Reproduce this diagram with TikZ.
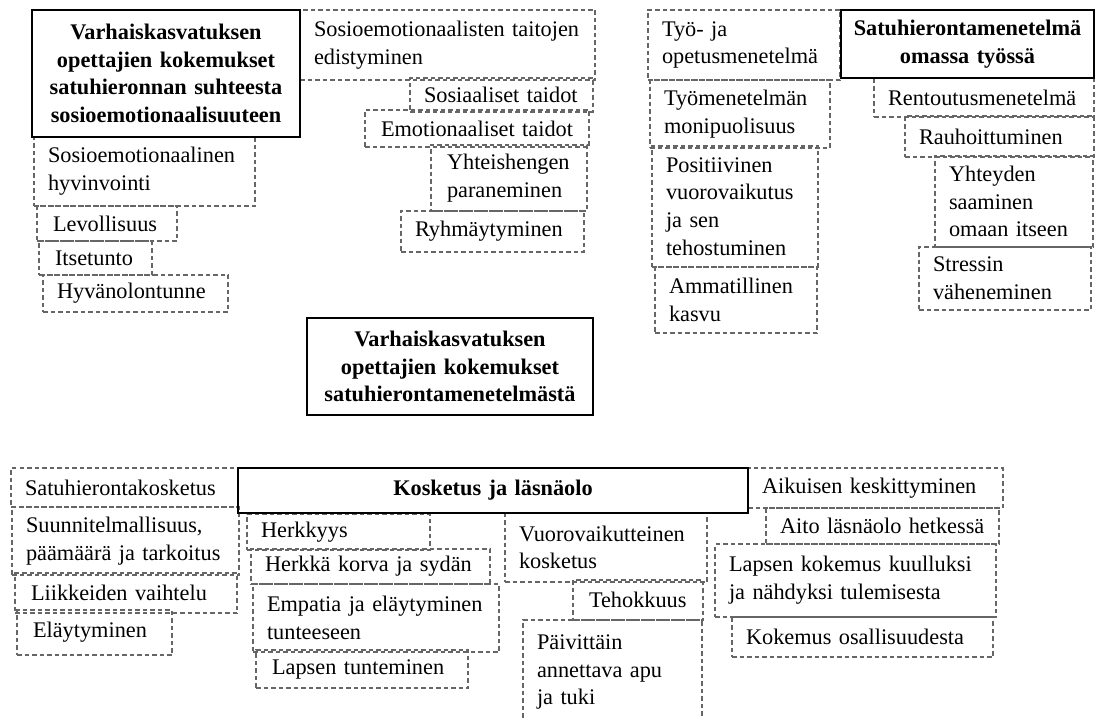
\documentclass[tikz,border=0pt]{standalone}
\usepackage{fontspec}
\setmainfont{Liberation Serif}
\hyphenpenalty=10000
\exhyphenpenalty=10000
\tikzset{
  sub/.style={draw=black!60, dash pattern=on 4.5pt off 3pt, line width=1.2pt,
    align=left, inner xsep=14pt, inner ysep=0pt, outer sep=0pt,
    font=\fontsize{22.3}{27.7}\selectfont, text=black, anchor=north west},
  head/.style={draw=black, line width=2.2pt, align=center, inner xsep=3pt,
    inner ysep=0pt, outer sep=0pt,
    font=\fontsize{22.3}{27.7}\selectfont\bfseries, text=black, anchor=north west},
}
\newcommand\SubBox[6]{%
  \pgfmathsetmacro\bw{#4-#2}\pgfmathsetmacro\bh{#5-#3}\pgfmathsetmacro\tw{#4-#2-28}%
  \node[sub, minimum width=\bw pt, minimum height=\bh pt, text width=\tw pt] (#1) at (#2,#3) {#6};}
\newcommand\HeadBox[6]{%
  \pgfmathsetmacro\bw{#4-#2}\pgfmathsetmacro\bh{#5-#3}\pgfmathsetmacro\tw{#4-#2-6}%
  \node[head, minimum width=\bw pt, minimum height=\bh pt, text width=\tw pt] (#1) at (#2,#3) {#6};}
\begin{document}
\hyphenpenalty=10000
\exhyphenpenalty=10000
\begin{tikzpicture}[x=1pt,y=-1pt]
\fill[white] (0,0) rectangle (1095,719);
\useasboundingbox (0,0) rectangle (1095,719);
% top-left group
\SubBox{a1}{300}{10}{595}{80}{Sosioemotionaalisten~taitojen\\edistyminen}
\SubBox{a2}{410}{78}{593}{112}{Sosiaaliset~taidot}
\SubBox{a3}{365}{110}{589}{147}{\hspace*{2pt}Emotionaaliset~taidot}
\SubBox{a4}{431}{145}{587}{211}{\hspace*{2pt}Yhteishengen\\\hspace*{2pt}paraneminen}
\SubBox{a5}{401}{211}{584}{252}{Ryhmäytyminen}
\SubBox{b1}{34}{137}{255}{206}{Sosioemotionaalinen\\hyvinvointi}
\SubBox{b2}{37}{206}{177}{241}{\hspace*{2pt}Levollisuus}
\SubBox{b3}{39}{241}{152}{275}{\hspace*{2pt}Itsetunto}
\SubBox{b4}{43}{275}{228}{312}{Hyvänolontunne}
% top-right group
\SubBox{c1}{648}{10}{840}{80}{Työ-~ja\\opetusmenetelmä}
\SubBox{c2}{650}{80}{830}{148}{Työmenetelmän\\monipuolisuus}
\SubBox{c3}{652}{146}{818}{267}{Positiivinen\\vuorovaikutus\\ja~sen\\tehostuminen}
\SubBox{c4}{655}{267}{817}{333}{Ammatillinen\\kasvu}
\SubBox{d1}{874}{78}{1094}{117}{Rentoutusmenetelmä}
\SubBox{d2}{905}{116}{1094}{157}{Rauhoittuminen}
\SubBox{d3}{935}{156}{1093}{247}{Yhteyden\\saaminen\\omaan~itseen}
\SubBox{d4}{919}{247}{1091}{310}{Stressin\\väheneminen}
% bottom group
\SubBox{e1}{11}{468}{238}{507}{Satuhierontakosketus}
\SubBox{e2}{12}{507}{239}{575}{Suunnitelmallisuus,\\päämäärä~ja~tarkoitus}
\SubBox{e3}{15}{573}{237}{613}{\hspace*{2pt}Liikkeiden~vaihtelu}
\SubBox{e4}{17}{610}{172}{655}{\hspace*{2pt}Eläytyminen}
\SubBox{f1}{247}{514}{430}{550}{Herkkyys}
\SubBox{f2}{251}{549}{490}{584}{Herkkä~korva~ja~sydän}
\SubBox{f3}{253}{584}{499}{652}{Empatia~ja~eläytyminen\\tunteeseen}
\SubBox{f4}{256}{650}{468}{688}{\hspace*{2pt}Lapsen~tunteminen}
\SubBox{g1}{505}{513}{707}{582}{Vuorovaikutteinen\\kosketus}
\SubBox{g2}{573}{580}{703}{620}{\hspace*{2pt}Tehokkuus}
\SubBox{g3}{523}{620}{702}{724}{Päivittäin\\annettava~apu\\ja~tuki}
\SubBox{h1}{748}{468}{1003}{508}{Aikuisen~keskittyminen}
\SubBox{h2}{766}{508}{999}{544}{Aito~läsnäolo~hetkessä}
\SubBox{h3}{715}{544}{996}{617}{Lapsen~kokemus~kuulluksi\\ja~nähdyksi~tulemisesta}
\SubBox{h4}{732}{617}{993}{657}{Kokemus~osallisuudesta}
% headers
\HeadBox{t1}{32}{10}{300}{137}{Varhaiskasvatuksen\\opettajien kokemukset\\satuhieronnan suhteesta\\sosioemotionaalisuuteen}
\HeadBox{t2}{841}{10}{1094}{78}{Satuhierontamenetelmä\\omassa työssä}
\HeadBox{t0}{307}{318}{593}{415}{Varhaiskasvatuksen\\opettajien kokemukset\\satuhierontamenetelmästä}
\HeadBox{t3}{238}{468}{748}{513}{Kosketus ja läsnäolo}
\end{tikzpicture}
\end{document}
